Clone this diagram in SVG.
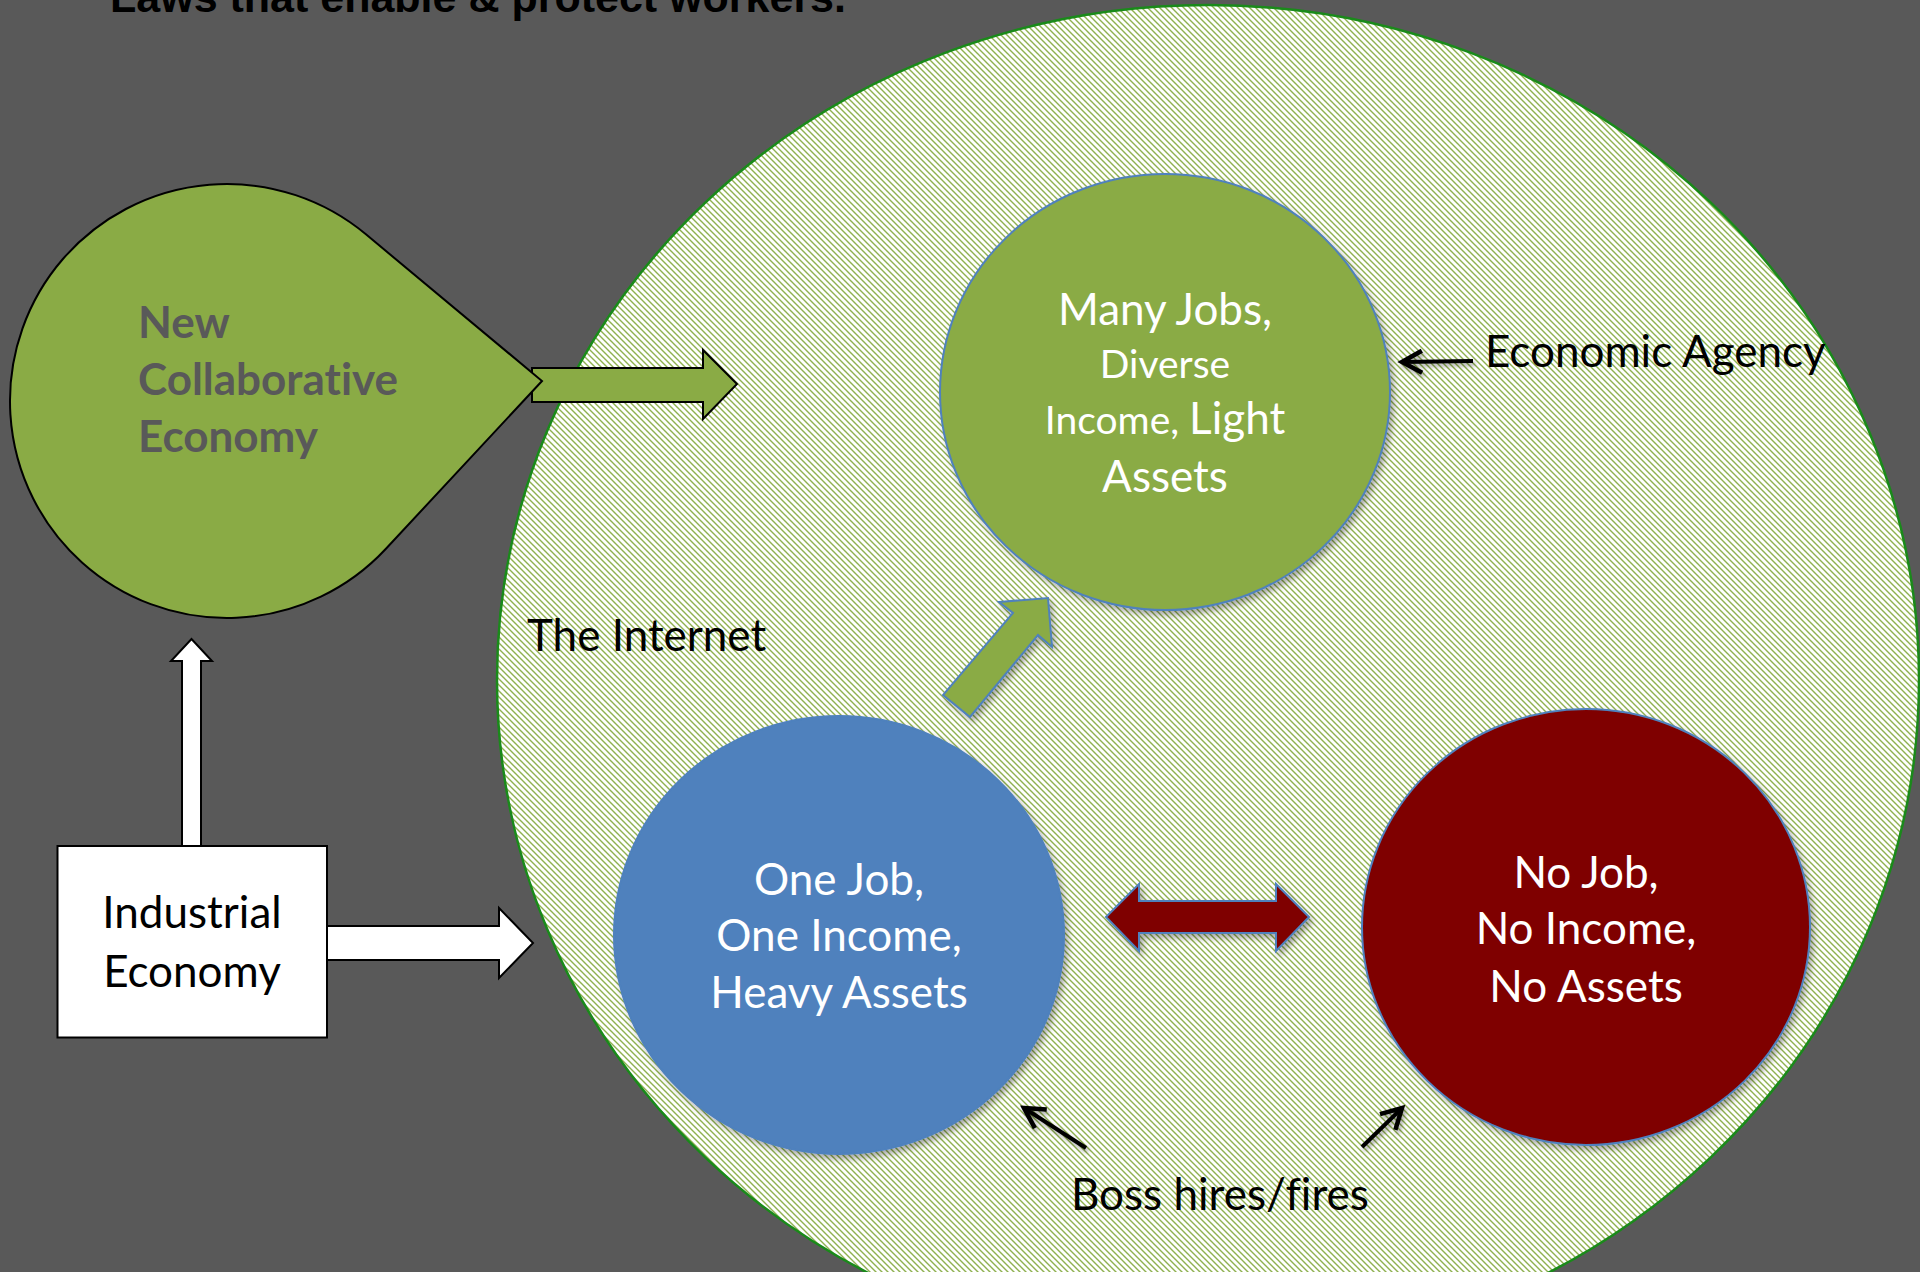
<svg xmlns="http://www.w3.org/2000/svg" width="1920" height="1272" viewBox="0 0 1920 1272">
  <style>
    .lbl { font-family: Lato, "Open Sans", "Liberation Sans", sans-serif; font-variant-ligatures: none; font-feature-settings: "liga" 0, "dlig" 0; }
    .white { fill: #ffffff; }
    .black { fill: #000000; }
    .big { font-size: 44px; }
    .small { font-size: 39px; }
    .mid { text-anchor: middle; }
    .outline-black { stroke: #000000; stroke-width: 2; stroke-linejoin: miter; }
    .outline-blue { stroke: #4f81bd; stroke-width: 2; stroke-linejoin: miter; }
    .thin-arrow { fill: none; stroke: #000000; stroke-width: 4; stroke-linecap: butt; }
  </style>
  <defs>
    <pattern id="hatch" width="6" height="6" patternUnits="userSpaceOnUse">
      <rect width="6" height="6" fill="#ffffff"/>
      <path d="M-1,-1 L7,7 M5,-1 L7,1 M-1,5 L1,7" stroke="#8fb150" stroke-width="1.4"/>
    </pattern>
    <filter id="shadow" x="-20%" y="-20%" width="140%" height="140%">
      <feDropShadow dx="3" dy="4" stdDeviation="3" flood-color="#000000" flood-opacity="0.35"/>
    </filter>
    <filter id="lineshadow" filterUnits="userSpaceOnUse" x="0" y="0" width="1920" height="1272">
      <feDropShadow dx="2" dy="3" stdDeviation="2" flood-color="#000000" flood-opacity="0.35"/>
    </filter>
    <marker id="chev" viewBox="-24 -14 28 28" refX="0" refY="0" markerWidth="28" markerHeight="28" markerUnits="userSpaceOnUse" orient="auto" overflow="visible">
      <path d="M-20,-11 L0,0 L-20,11" fill="none" stroke="#000000" stroke-width="4.5"/>
    </marker>
  </defs>

  <rect width="1920" height="1272" fill="#595959"/>

  <text x="110" y="12" font-family="'Liberation Sans', Arial, sans-serif" font-weight="bold" font-size="43" fill="#000000">Laws that enable &amp; protect workers.</text>

  <g id="internet">
    <ellipse cx="1208" cy="680" rx="711" ry="675" fill="url(#hatch)" stroke="#1a8a1a" stroke-width="2.5"/>
    <text class="lbl black big" x="527" y="651">The Internet</text>
  </g>

  <g id="connectors">
    <polygon points="532,368 703,368 703,350 737,384 703,419 703,402 532,402" fill="#8aab45" class="outline-black"/>
    <polygon points="182,846 182,661 171,661 191.5,639 212,661 201,661 201,846" fill="#ffffff" class="outline-black"/>
    <polygon points="327,926 499,926 499,908 533,943 499,978 499,960 327,960" fill="#ffffff" class="outline-black"/>
    <polygon points="1048,598 1052,647 1038,635 970,717 943,695 1013,613 999,602" fill="#8aab45" class="outline-blue" filter="url(#shadow)"/>
    <polygon points="1106,917 1139,884 1139,901 1276,901 1276,884 1309,917 1276,951 1276,933 1139,933 1139,951" fill="#7f0000" class="outline-blue" filter="url(#shadow)"/>
    <g filter="url(#lineshadow)">
      <line x1="1473" y1="361" x2="1402" y2="362" class="thin-arrow" marker-end="url(#chev)"/>
      <line x1="1086" y1="1148" x2="1024" y2="1108" class="thin-arrow" marker-end="url(#chev)"/>
      <line x1="1362" y1="1147" x2="1402" y2="1108" class="thin-arrow" marker-end="url(#chev)"/>
    </g>
  </g>

  <g id="new-collaborative-economy">
    <path d="M365.9,234.3 A217,217 0 1 0 385.7,549 L542,381 Z" fill="#8aab45" stroke="#000000" stroke-width="2"/>
    <text class="lbl" x="138" y="338" font-weight="bold" font-size="44" fill="#595959">New</text>
    <text class="lbl" x="138" y="395" font-weight="bold" font-size="44" fill="#595959">Collaborative</text>
    <text class="lbl" x="138" y="452" font-weight="bold" font-size="44" fill="#595959">Economy</text>
  </g>

  <g id="industrial-economy">
    <rect x="57.5" y="846" width="269.5" height="191.5" fill="#ffffff" stroke="#000000" stroke-width="2"/>
    <text class="lbl black big mid" x="192" y="928">Industrial</text>
    <text class="lbl black big mid" x="192" y="987">Economy</text>
  </g>

  <g id="many-jobs">
    <ellipse cx="1165" cy="392" rx="225" ry="218" fill="#8aab45" stroke="#4f81bd" stroke-width="2" filter="url(#shadow)"/>
    <text class="lbl white big mid" x="1165" y="325">Many Jobs,</text>
    <text class="lbl white small mid" x="1165" y="378">Diverse</text>
    <text class="lbl white mid" x="1165" y="434"><tspan class="small">Income, </tspan><tspan class="big">Light</tspan></text>
    <text class="lbl white big mid" x="1165" y="492">Assets</text>
  </g>

  <g id="economic-agency">
    <text class="lbl black big" x="1485" y="367">Economic Agency</text>
  </g>

  <g id="one-job">
    <ellipse cx="839" cy="935" rx="225" ry="219" fill="#4f81bd" stroke="#4f81bd" stroke-width="2" filter="url(#shadow)"/>
    <text class="lbl white big mid" x="839" y="895">One Job,</text>
    <text class="lbl white big mid" x="839" y="951">One Income,</text>
    <text class="lbl white big mid" x="839" y="1008">Heavy Assets</text>
  </g>

  <g id="no-job">
    <ellipse cx="1586" cy="927" rx="224" ry="218" fill="#7f0000" stroke="#4f81bd" stroke-width="2" filter="url(#shadow)"/>
    <text class="lbl white big mid" x="1586" y="888">No Job,</text>
    <text class="lbl white big mid" x="1586" y="944">No Income,</text>
    <text class="lbl white big mid" x="1586" y="1002">No Assets</text>
  </g>

  <g id="boss-hires-fires">
    <text class="lbl black big" x="1071" y="1210">Boss hires/fires</text>
  </g>
</svg>
